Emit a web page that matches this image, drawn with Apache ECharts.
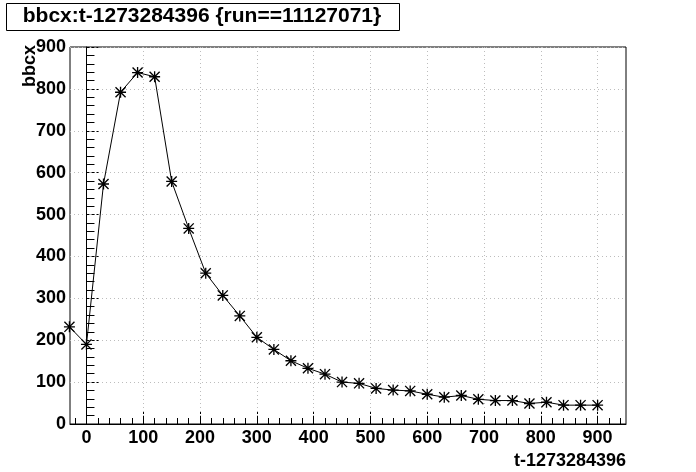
<!DOCTYPE html>
<html>
<head>
<meta charset="utf-8">
<script src="https://cdn.jsdelivr.net/npm/echarts@6/dist/echarts.min.js"></script>
<style>html,body{margin:0;padding:0;background:#fff}#c{width:696px;height:472px}</style>
</head>
<body>
<div id="c"></div>
<script>
const titleText = 'bbcx:t-1273284396 {run==11127071}';
const xTitle = 't-1273284396';
const yTitle = 'bbcx';
const xValues = [-30,0,30,60,90,120,150,180,210,240,270,300,330,360,390,420,450,480,510,540,570,600,630,660,690,720,750,780,810,840,870,900];
const yValues = [232,190,573,792,839,829,579,467,360,307,258,207,178,151,133,119,100,97,85,81,79,71,64,68,59,56,56,49,52,45,45,45];
const xMajorTicks = [0,100,200,300,400,500,600,700,800,900];
const xMinorTicks = [-20,0,20,40,60,80,100,120,140,160,180,200,220,240,260,280,300,320,340,360,380,400,420,440,460,480,500,520,540,560,580,600,620,640,660,680,700,720,740,760,780,800,820,840,860,880,900,920,940];

const FONT = '"Liberation Sans", Arial, Helvetica, sans-serif';
const asterisk = 'path://M0,4.4L10,4.4L10,5.6L0,5.6Z M4.4,0L5.6,0L5.6,10L4.4,10Z M0,0.85L0.85,0L10,9.15L9.15,10Z M9.15,0L10,0.85L0.85,10L0,9.15Z';

const chart = echarts.init(document.getElementById('c'), null, {renderer: 'canvas'});
chart.setOption({
  animation: false,
  backgroundColor: '#fff',
  grid: {left: 70, right: 70, top: 47, bottom: 48, show: true, borderColor: '#000', borderWidth: 1, backgroundColor: 'transparent'},
  graphic: [
    {type: 'rect', left: 6, top: 3, shape: {width: 393, height: 27}, style: {fill: '#fff', stroke: '#000', lineWidth: 1}},
    {type: 'text', x: 202, y: 16.5, style: {text: titleText, font: 'bold 21px ' + FONT, fill: '#000', align: 'center', verticalAlign: 'middle'}},
    {type: 'text', x: 626, y: 461, style: {text: xTitle, font: 'bold 18px ' + FONT, fill: '#000', align: 'right', verticalAlign: 'middle'}},
    {type: 'text', x: 30, y: 45, rotation: Math.PI / 2, style: {text: yTitle, font: 'bold 18px ' + FONT, fill: '#000', align: 'right', verticalAlign: 'middle'}}
  ],
  xAxis: [
    {
      type: 'value', min: -29, max: 950,
      axisLine: {show: true, lineStyle: {color: '#000', width: 1}},
      axisTick: {show: true, inside: true, length: 12, customValues: xMajorTicks, lineStyle: {color: '#000', type: [3, 2]}},
      axisLabel: {show: true, customValues: xMajorTicks, margin: 5, color: '#000', fontSize: 18, fontWeight: 'bold', fontFamily: FONT},
      splitLine: {show: true, lineStyle: {color: '#bdbdbd', type: [1, 3], width: 1}}
    },
    {
      type: 'value', min: -29, max: 950, position: 'bottom',
      axisLine: {show: false},
      axisTick: {show: true, inside: true, length: 6, customValues: xMinorTicks, lineStyle: {color: '#000'}},
      axisLabel: {show: false},
      splitLine: {show: false}
    }
  ],
  yAxis: {
    type: 'value', min: 0, max: 900, interval: 100,
    axisLine: {show: true, lineStyle: {color: '#000', width: 1}},
    axisTick: {show: true, inside: true, length: 12, lineStyle: {color: '#000', type: [3, 2]}},
    minorTick: {show: true, splitNumber: 5, length: 8, lineStyle: {color: '#000'}},
    axisLabel: {margin: 4, color: '#000', fontSize: 18, fontWeight: 'bold', fontFamily: FONT},
    splitLine: {show: true, lineStyle: {color: '#bdbdbd', type: [1, 3], width: 1}}
  },
  series: [{
    type: 'line',
    xAxisIndex: 0,
    data: xValues.map((x, i) => [x, yValues[i]]),
    clip: false,
    symbol: asterisk,
    symbolSize: 11,
    showAllSymbol: true,
    lineStyle: {color: '#000', width: 1},
    itemStyle: {color: '#000'}
  }]
});
</script>
</body>
</html>
